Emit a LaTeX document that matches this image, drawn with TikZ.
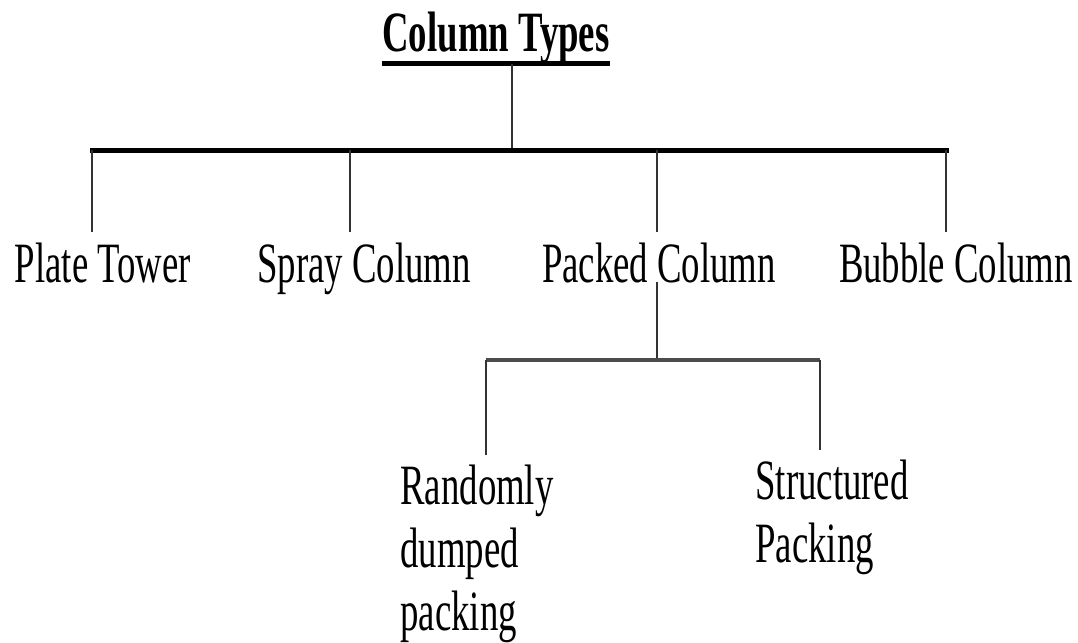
\documentclass[tikz,border=0pt]{standalone}
\usepackage{fontspec}
\setmainfont{Liberation Serif}[FakeStretch=0.645]

\begin{document}
\begin{tikzpicture}[x=0.5pt, y=-0.5pt,
  font=\fontsize{28.5}{31.5}\selectfont,
  lbl/.style={inner sep=5pt},
  bar/.style={line width=2.5pt, line cap=rect},
  drop/.style={line width=1pt, black!80},
  subbar/.style={line width=2pt, black!70}]
\useasboundingbox (0,0) rectangle (1078,643);
% ---- top: title and main bar ----
\node[inner sep=0pt, anchor=base, font=\fontsize{28.5}{31.5}\selectfont\bfseries] (title) at (496,51) {Column Types};
\draw[line width=2.5pt] (title.south west) -- (title.south east);
\coordinate (trunk) at (512,150);
\draw[drop] (title.south -| trunk) -- (trunk);
\coordinate (plate-top) at (92,150);
\coordinate (spray-top) at (350,150);
\coordinate (packed-top) at (657,150);
\coordinate (bubble-top) at (946,150);
\draw[bar] (plate-top) -- (bubble-top);
% ---- column types ----
\node[lbl, anchor=base] (plate) at (103,282) {Plate Tower};
\node[lbl, anchor=base] (spray) at (364,282) {Spray Column};
\node[lbl, anchor=base] (packed) at (659,282) {Packed Column};
\node[lbl, anchor=base] (bubble) at (956,282) {Bubble Column};
\foreach \n in {plate,spray,packed,bubble}{\draw[drop] (\n-top) -- (\n-top |- \n.north);}
% ---- packing types ----
\coordinate (pack) at (657,360);
\coordinate (random-top) at (486,360);
\coordinate (struct-top) at (820,360);
\draw[drop] (packed.base -| pack) -- (pack);
\draw[subbar] (random-top) -- (struct-top);
\node[lbl, anchor=north west, align=left] (random) at (390,455) {Randomly\\dumped\\packing};
\node[lbl, anchor=north west, align=left] (struct) at (745,450) {Structured\\Packing};
\foreach \n in {random,struct}{\draw[drop] (\n-top) -- (\n-top |- \n.north);}
\end{tikzpicture}
\end{document}
